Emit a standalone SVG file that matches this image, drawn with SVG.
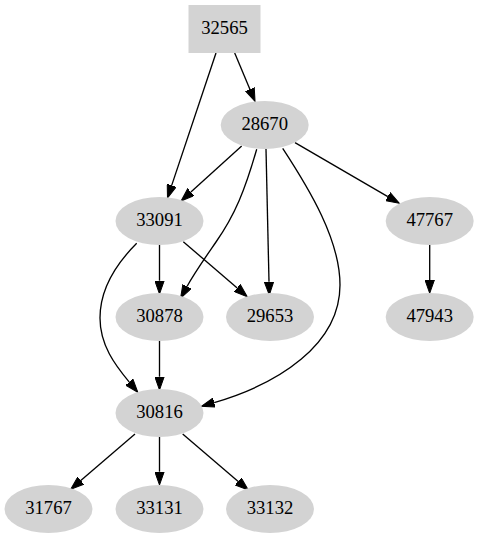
<svg xmlns="http://www.w3.org/2000/svg" width="479" height="539" viewBox="0 0 479 539">
<style>
.n{fill:#d3d3d3;stroke:none}
text{font-family:'Liberation Serif','Times New Roman','DejaVu Serif',serif;font-size:18.67px;text-anchor:middle;fill:#000}
.e{fill:none;stroke:#000;stroke-width:1.33;marker-end:url(#a)}
</style>
<defs>
<marker id="a" markerUnits="userSpaceOnUse" markerWidth="14" markerHeight="10" viewBox="0 0 14 10" refX="0" refY="5" orient="auto">
<path d="M0,0.3 L13.3,5 L0,9.7 z" fill="#000" stroke="#000" stroke-width="1"/>
</marker>
</defs>
<rect width="479" height="539" fill="#fff"/>
<g id="edges">
<path class="e" d="M216,53 L171.7,185.4"/>
<path class="e" d="M234.7,53 L249.9,89.2"/>
<path class="e" d="M241.7,146 L190.9,192.1"/>
<path class="e" d="M256.7,149.3 C245,190 235,215 216,242 C205,258 195,272 187,286.5"/>
<path class="e" d="M266,149 L269,281.7"/>
<path class="e" d="M282.7,148.3 C310,190 340,240 340,285 C340,345 278,384 214.2,402.6"/>
<path class="e" d="M295,142.7 L387.8,196.6"/>
<path class="e" d="M159.5,245 L159.5,280.7"/>
<path class="e" d="M183.3,241.7 L237.2,288"/>
<path class="e" d="M136.7,243.3 C115,265 100,290 100,318 C100,345 115,365 129.3,382.1"/>
<path class="e" d="M429.7,245 L429.7,280"/>
<path class="e" d="M159.5,341 L159.5,376.7"/>
<path class="e" d="M135,434 L80.8,480.6"/>
<path class="e" d="M159.5,437 L159.5,471.7"/>
<path class="e" d="M182.7,434 L238.2,481.4"/>
</g>
<g id="n32565"><rect class="n" x="188.5" y="5" width="72" height="48"/><text x="224.5" y="34" font-family="Liberation Serif">32565</text></g>
<g id="n28670"><ellipse class="n" cx="264.7" cy="125" rx="44" ry="24"/><text x="264.7" y="130">28670</text></g>
<g id="n33091"><ellipse class="n" cx="159.5" cy="221" rx="44" ry="24"/><text x="159.5" y="226">33091</text></g>
<g id="n47767"><ellipse class="n" cx="429.7" cy="221" rx="44" ry="24"/><text x="429.7" y="226">47767</text></g>
<g id="n30878"><ellipse class="n" cx="159.5" cy="317" rx="44" ry="24"/><text x="159.5" y="322">30878</text></g>
<g id="n29653"><ellipse class="n" cx="270" cy="317" rx="44" ry="24"/><text x="270" y="322">29653</text></g>
<g id="n47943"><ellipse class="n" cx="429.7" cy="317" rx="44" ry="24"/><text x="429.7" y="322">47943</text></g>
<g id="n30816"><ellipse class="n" cx="159.5" cy="413" rx="44" ry="24"/><text x="159.5" y="418">30816</text></g>
<g id="n31767"><ellipse class="n" cx="48.5" cy="509" rx="44" ry="24"/><text x="48.5" y="514">31767</text></g>
<g id="n33131"><ellipse class="n" cx="159.5" cy="509" rx="44" ry="24"/><text x="159.5" y="514">33131</text></g>
<g id="n33132"><ellipse class="n" cx="270" cy="509" rx="44" ry="24"/><text x="270" y="514">33132</text></g>
</svg>
